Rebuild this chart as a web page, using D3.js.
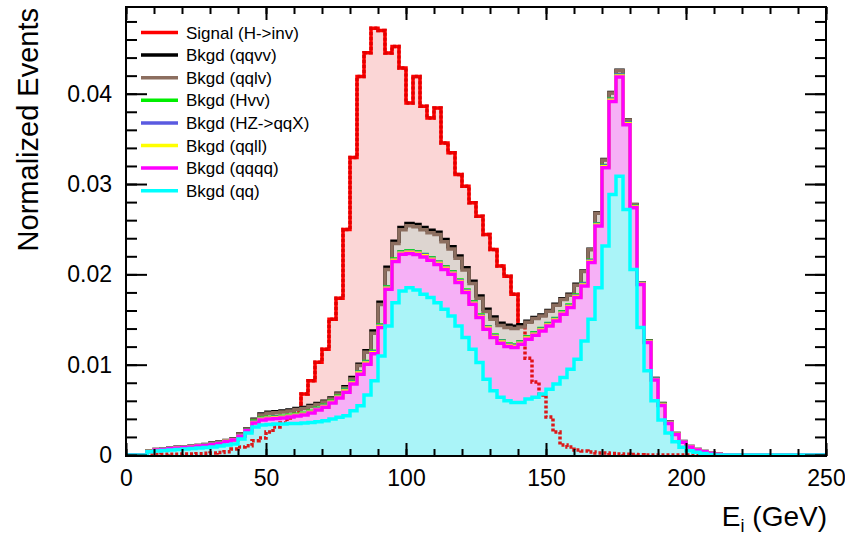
<!DOCTYPE html>
<html><head><meta charset="utf-8">
<script src="https://cdn.jsdelivr.net/npm/d3@7"></script>
<style>
body{margin:0;background:#fff}
svg{display:block}
text{font-family:"Liberation Sans",Arial,Helvetica,sans-serif;fill:#000}
</style>
</head><body>
<svg id="c" width="845" height="535"></svg>
<script>
// ---------------- data ----------------
const binWidth = 2.5;      // GeV
const nBins = 100;         // 0 .. 250 GeV
const xTickValues = [0, 50, 100, 150, 200, 250];
const yTickValues = [0, 0.01, 0.02, 0.03, 0.04];
const legendLabels = ["Signal (H->inv)", "Bkgd (qqvv)", "Bkgd (qqlv)", "Bkgd (Hvv)",
                      "Bkgd (HZ->qqX)", "Bkgd (qqll)", "Bkgd (qqqq)", "Bkgd (qq)"];

const signal = [
 0, 0, 0.00003, 0.00005, 0.00006, 0.00007, 0.00008, 0.00009, 0.00010, 0.00011,
 0.00015, 0.00018, 0.00022, 0.00028, 0.00036, 0.00066, 0.00088, 0.00103, 0.00158, 0.00188,
 0.00254, 0.00309, 0.00354, 0.00409, 0.00486, 0.00674, 0.00821, 0.01028, 0.01171, 0.01503,
 0.01735, 0.02497, 0.03293, 0.04191, 0.04453, 0.04724, 0.04700, 0.04450, 0.04523, 0.04284,
 0.03897, 0.04191, 0.03860, 0.03732, 0.03842, 0.03455, 0.03345, 0.03105, 0.02976, 0.02792,
 0.02644, 0.02442, 0.02276, 0.02092, 0.01978, 0.01779, 0.01437, 0.01072, 0.00807, 0.00663,
 0.00420, 0.00254, 0.00111, 0.00088, 0.00055, 0.00044, 0.00033, 0.00022, 0.00022, 0.00017,
 0.00011, 0.00008, 0.00005, 0.00003, 0, 0, 0, 0, 0, 0,
 0, 0, 0, 0, 0, 0, 0, 0, 0, 0,
 0, 0, 0, 0, 0, 0, 0, 0, 0, 0];

const qq = [
 0, 0, 0, 0.00036, 0.00044, 0.00050, 0.00055, 0.00061, 0.00066, 0.00072,
 0.00077, 0.00083, 0.00088, 0.00099, 0.00111, 0.00122, 0.00177, 0.00243, 0.00309, 0.00332,
 0.00337, 0.00343, 0.00343, 0.00348, 0.00348, 0.00354, 0.00361, 0.00368, 0.00379, 0.00398,
 0.00417, 0.00434, 0.00490, 0.00545, 0.00663, 0.00821, 0.01097, 0.01429, 0.01687, 0.01816,
 0.01853, 0.01827, 0.01779, 0.01743, 0.01687, 0.01613, 0.01539, 0.01429, 0.01301, 0.01171,
 0.01024, 0.00840, 0.00711, 0.00638, 0.00600, 0.00582, 0.00582, 0.00619, 0.00638, 0.00674,
 0.00729, 0.00785, 0.00859, 0.00950, 0.01061, 0.01263, 0.01503, 0.01853, 0.02313, 0.02884,
 0.03086, 0.02718, 0.02055, 0.01411, 0.00932, 0.00600, 0.00387, 0.00243, 0.00147, 0.00085,
 0.00048, 0.00030, 0.00017, 0.00006, 0, 0, 0, 0, 0, 0,
 0, 0, 0, 0, 0, 0, 0, 0, 0, 0];

const qqqq = [
 0, 0, 0, 0.00002, 0.00011, 0.00011, 0.00017, 0.00017, 0.00017, 0.00017,
 0.00022, 0.00022, 0.00028, 0.00028, 0.00039, 0.00044, 0.00030, 0.00025, 0.00044, 0.00055,
 0.00061, 0.00061, 0.00066, 0.00072, 0.00083, 0.00088, 0.00103, 0.00129, 0.00151, 0.00177,
 0.00213, 0.00262, 0.00295, 0.00350, 0.00343, 0.00300, 0.00314, 0.00406, 0.00456, 0.00406,
 0.00379, 0.00394, 0.00414, 0.00412, 0.00423, 0.00442, 0.00461, 0.00480, 0.00497, 0.00497,
 0.00497, 0.00553, 0.00590, 0.00600, 0.00601, 0.00608, 0.00644, 0.00663, 0.00688, 0.00699,
 0.00699, 0.00699, 0.00699, 0.00682, 0.00682, 0.00608, 0.00627, 0.00681, 0.00866, 0.01031,
 0.01098, 0.00939, 0.00682, 0.00478, 0.00314, 0.00229, 0.00162, 0.00105, 0.00080, 0.00055,
 0.00041, 0.00025, 0.00019, 0.00013, 0.00008, 0.00003, 0, 0, 0, 0,
 0, 0, 0, 0, 0, 0, 0, 0, 0, 0];

const qqll = [
 0, 0, 0, 0.00001, 0.00001, 0.00001, 0.00001, 0.00001, 0.00001, 0.00001,
 0.00001, 0.00001, 0.00001, 0.00001, 0.00001, 0.00001, 0.00001, 0.00001, 0.00008, 0.00008,
 0.00008, 0.00008, 0.00008, 0.00008, 0.00008, 0.00008, 0.00008, 0.00008, 0.00008, 0.00008,
 0.00008, 0.00012, 0.00012, 0.00012, 0.00012, 0.00012, 0.00012, 0.00012, 0.00012, 0.00012,
 0.00012, 0.00012, 0.00012, 0.00012, 0.00012, 0.00012, 0.00012, 0.00012, 0.00012, 0.00012,
 0.00012, 0.00012, 0.00012, 0.00012, 0.00012, 0.00012, 0.00012, 0.00012, 0.00012, 0.00012,
 0.00012, 0.00012, 0.00012, 0.00012, 0.00012, 0.00012, 0.00012, 0.00012, 0.00012, 0.00012,
 0.00012, 0.00010, 0.00008, 0.00005, 0.00005, 0.00005, 0.00004, 0.00004, 0.00002, 0.00002,
 0.00001, 0.00001, 0.00001, 0, 0, 0, 0, 0, 0, 0,
 0, 0, 0, 0, 0, 0, 0, 0, 0, 0];

const hzqqx = [
 0, 0, 0, 0.00001, 0.00001, 0.00001, 0.00001, 0.00001, 0.00001, 0.00001,
 0.00001, 0.00001, 0.00001, 0.00001, 0.00001, 0.00001, 0.00001, 0.00001, 0.00005, 0.00005,
 0.00005, 0.00005, 0.00005, 0.00005, 0.00005, 0.00005, 0.00005, 0.00005, 0.00005, 0.00005,
 0.00005, 0.00008, 0.00008, 0.00008, 0.00008, 0.00008, 0.00008, 0.00008, 0.00008, 0.00008,
 0.00008, 0.00008, 0.00008, 0.00008, 0.00008, 0.00008, 0.00008, 0.00008, 0.00008, 0.00008,
 0.00008, 0.00008, 0.00008, 0.00008, 0.00008, 0.00008, 0.00008, 0.00008, 0.00008, 0.00008,
 0.00008, 0.00008, 0.00008, 0.00008, 0.00008, 0.00010, 0.00010, 0.00010, 0.00010, 0.00010,
 0.00010, 0.00008, 0.00006, 0.00004, 0.00004, 0.00004, 0.00003, 0.00003, 0.00002, 0.00002,
 0.00001, 0.00001, 0, 0, 0, 0, 0, 0, 0, 0,
 0, 0, 0, 0, 0, 0, 0, 0, 0, 0];

const hvv = [
 0, 0, 0, 0.00001, 0.00001, 0.00001, 0.00001, 0.00001, 0.00001, 0.00001,
 0.00001, 0.00001, 0.00001, 0.00001, 0.00001, 0.00001, 0.00001, 0.00001, 0.00007, 0.00007,
 0.00007, 0.00007, 0.00007, 0.00007, 0.00007, 0.00007, 0.00007, 0.00007, 0.00007, 0.00007,
 0.00007, 0.00008, 0.00008, 0.00008, 0.00008, 0.00008, 0.00008, 0.00008, 0.00008, 0.00008,
 0.00008, 0.00008, 0.00008, 0.00008, 0.00008, 0.00008, 0.00008, 0.00008, 0.00008, 0.00008,
 0.00008, 0.00008, 0.00008, 0.00008, 0.00008, 0.00008, 0.00008, 0.00008, 0.00008, 0.00008,
 0.00008, 0.00008, 0.00008, 0.00008, 0.00008, 0.00005, 0.00005, 0.00005, 0.00005, 0.00005,
 0.00005, 0.00004, 0.00003, 0.00002, 0.00002, 0.00002, 0.00002, 0.00002, 0.00001, 0.00001,
 0.00001, 0.00001, 0, 0, 0, 0, 0, 0, 0, 0,
 0, 0, 0, 0, 0, 0, 0, 0, 0, 0];

const qqlv = [
 0, 0, 0, 0.00002, 0.00002, 0.00002, 0.00002, 0.00002, 0.00002, 0.00002,
 0.00002, 0.00006, 0.00012, 0.00012, 0.00006, 0.00006, 0.00023, 0.00017, 0.00014, 0.00036,
 0.00044, 0.00045, 0.00047, 0.00047, 0.00053, 0.00053, 0.00053, 0.00042, 0.00036, 0.00025,
 0.00025, 0.00018, 0.00029, 0.00068, 0.00104, 0.00199, 0.00227, 0.00190, 0.00171, 0.00245,
 0.00279, 0.00279, 0.00273, 0.00279, 0.00304, 0.00279, 0.00253, 0.00241, 0.00223, 0.00204,
 0.00186, 0.00168, 0.00175, 0.00168, 0.00182, 0.00182, 0.00162, 0.00161, 0.00158, 0.00139,
 0.00135, 0.00147, 0.00135, 0.00109, 0.00109, 0.00134, 0.00115, 0.00116, 0.00060, 0.00067,
 0.00043, 0.00030, 0.00017, 0.00007, 0.00006, 0.00007, 0.00010, 0.00007, 0.00005, 0.00003,
 0.00003, 0.00003, 0.00002, 0.00003, 0.00003, 0, 0, 0, 0, 0,
 0, 0, 0, 0, 0, 0, 0, 0, 0, 0];

const qqvv = [
 0, 0, 0, 0.00002, 0.00002, 0.00002, 0.00002, 0.00002, 0.00002, 0.00002,
 0.00002, 0.00002, 0.00002, 0.00002, 0.00002, 0.00002, 0.00002, 0.00002, 0.00010, 0.00010,
 0.00010, 0.00010, 0.00010, 0.00010, 0.00010, 0.00010, 0.00010, 0.00010, 0.00010, 0.00010,
 0.00010, 0.00015, 0.00015, 0.00015, 0.00015, 0.00025, 0.00025, 0.00025, 0.00025, 0.00025,
 0.00025, 0.00025, 0.00025, 0.00025, 0.00025, 0.00025, 0.00025, 0.00025, 0.00025, 0.00025,
 0.00025, 0.00025, 0.00025, 0.00025, 0.00025, 0.00025, 0.00025, 0.00010, 0.00010, 0.00010,
 0.00010, 0.00010, 0.00010, 0.00010, 0.00010, 0.00005, 0.00005, 0.00005, 0.00005, 0.00005,
 0.00005, 0.00003, 0.00002, 0.00001, 0.00001, 0.00001, 0.00001, 0.00001, 0.00001, 0.00001,
 0, 0, 0, 0, 0, 0, 0, 0, 0, 0,
 0, 0, 0, 0, 0, 0, 0, 0, 0, 0];

// ---------------- layout / style ----------------
const W = 845, H = 535;
const frame = {left: 126, right: 826, top: 7, bottom: 456};
const colors = {signal: "#ff0000", qqvv: "#000000", qqlv: "#8c6e5f", hvv: "#00ee00",
                hzqqx: "#5a5ae0", qqll: "#ffff00", qqqq: "#ff00ff", qq: "#00ffff"};
const bandColors = {signal: "#fbd6d6", qqvv: "#bcbcbc", qqlv: "#ddd5d0", hvv: "#b8f5b8",
                    hzqqx: "#c4c4f4", qqll: "#ffffb0", qqqq: "#f6b0f6", qq: "#aaf4f8"};

const svg = d3.select("#c");
svg.append("rect").attr("width", W).attr("height", H).attr("fill", "#fff");

const x = d3.scaleLinear().domain([0, nBins * binWidth]).range([frame.left, frame.right]);
const y = d3.scaleLinear().domain([0, 0.0496]).range([frame.bottom - 1, frame.top]);

const edges = d3.range(nBins + 1).map(i => i * binWidth);

const defs = svg.append("defs");
defs.append("clipPath").attr("id", "clip").append("rect")
  .attr("x", frame.left).attr("y", frame.top)
  .attr("width", frame.right - frame.left).attr("height", frame.bottom - frame.top + 1);

// step-shaped helpers: points are [binLowEdge, low, high]
function stepPoints(highs, lows) {
  const pts = highs.map((v, i) => [edges[i], lows ? lows[i] : 0, v]);
  pts.push([edges[nBins], lows ? lows[nBins - 1] : 0, highs[nBins - 1]]);
  return pts;
}
const stepLine = d3.line().x(d => x(d[0])).y(d => y(d[2])).curve(d3.curveStepAfter);
const stepBand = d3.area().x(d => x(d[0])).y0(d => y(d[1])).y1(d => y(d[2])).curve(d3.curveStepAfter);

const plot = svg.append("g").attr("clip-path", "url(#clip)");
const LW = 3.5;

// stacked backgrounds (bottom -> top)
const stackKeys = ["qq", "qqqq", "qqll", "hzqqx", "hvv", "qqlv", "qqvv"];
const seriesData = {qq, qqqq, qqll, hzqqx, hvv, qqlv, qqvv};
const table = d3.range(nBins).map(i => {
  const row = {};
  stackKeys.forEach(k => row[k] = seriesData[k][i]);
  return row;
});
const stacked = d3.stack().keys(stackKeys)(table);
const totalTop = stacked[stacked.length - 1].map(d => d[1]);

// signal: light fill where it rises above the background stack, then its outline
const sigHigh = signal.map((v, i) => Math.max(v, totalTop[i]));
plot.append("path").attr("d", stepBand(stepPoints(sigHigh, totalTop))).attr("fill", bandColors.signal);
plot.append("path").attr("d", stepLine(stepPoints(signal))).attr("fill", "none")
  .attr("stroke", colors.signal).attr("stroke-width", LW);

// background fills (each band between its lower and upper cumulative edge)
const bandG = plot.append("g");
stacked.forEach((layer, li) => {
  const key = stackKeys[li];
  bandG.append("path")
    .attr("d", stepBand(stepPoints(layer.map(d => d[1]), layer.map(d => d[0]))))
    .attr("fill", bandColors[key]);
});

// signal seen through the background fill (dotted)
plot.append("path").attr("d", stepLine(stepPoints(signal))).attr("fill", "none")
  .attr("stroke", "#e00000").attr("stroke-width", LW).attr("stroke-dasharray", "3,2")
  .attr("opacity", 0.9);

// background outlines, top cumulative first, bottom layer last (ROOT THStack order)
for (let li = stacked.length - 1; li >= 0; li--) {
  const key = stackKeys[li];
  const tops = stacked[li].map(d => d[1]);
  plot.append("path").attr("d", stepLine(stepPoints(tops))).attr("fill", "none")
    .attr("stroke", colors[key]).attr("stroke-width", LW);
}

// ---------------- axes ----------------
const fmtY = v => v === 0 ? "0" : d3.format(".2f")(v);
const yMinor = d3.range(0, 0.0497, 0.002);
const xMinor = d3.range(0, 251, 10);

function styleAxis(g) {
  g.select(".domain").remove();
  g.selectAll(".tick line").attr("stroke", "#000").attr("stroke-width", 2);
  g.selectAll(".tick text").style("font-size", "23px").style("font-family", "'Liberation Sans',Arial,sans-serif");
}
svg.append("g").attr("transform", `translate(${frame.left},0)`)
  .call(d3.axisLeft(y).tickValues(yTickValues).tickFormat(fmtY).tickSize(-21).tickPadding(14))
  .call(styleAxis);
svg.append("g").attr("transform", `translate(${frame.left},0)`)
  .call(d3.axisLeft(y).tickValues(yMinor).tickFormat("").tickSize(-11)).call(styleAxis);
svg.append("g").attr("transform", `translate(${frame.right},0)`)
  .call(d3.axisRight(y).tickValues(yTickValues).tickFormat("").tickSize(-21)).call(styleAxis);
svg.append("g").attr("transform", `translate(${frame.right},0)`)
  .call(d3.axisRight(y).tickValues(yMinor).tickFormat("").tickSize(-11)).call(styleAxis);

svg.append("g").attr("transform", `translate(0,${frame.bottom})`)
  .call(d3.axisBottom(x).tickValues(xTickValues).tickFormat(d3.format("d")).tickSize(-13).tickPadding(14))
  .call(styleAxis);
svg.append("g").attr("transform", `translate(0,${frame.bottom})`)
  .call(d3.axisBottom(x).tickValues(xMinor).tickFormat("").tickSize(-7)).call(styleAxis);
svg.append("g").attr("transform", `translate(0,${frame.top})`)
  .call(d3.axisTop(x).tickValues(xTickValues).tickFormat("").tickSize(-13)).call(styleAxis);
svg.append("g").attr("transform", `translate(0,${frame.top})`)
  .call(d3.axisTop(x).tickValues(xMinor).tickFormat("").tickSize(-7)).call(styleAxis);

// frame
svg.append("rect").attr("x", frame.left).attr("y", frame.top)
  .attr("width", frame.right - frame.left).attr("height", frame.bottom - frame.top)
  .attr("fill", "none").attr("stroke", "#000").attr("stroke-width", 2);

// axis titles
svg.append("text").attr("transform", "translate(38,8) rotate(-90)")
  .attr("text-anchor", "end").style("font-size", "29px").text("Normalized Events");
const xt = svg.append("text").attr("x", 827).attr("y", 526).attr("text-anchor", "end")
  .style("font-size", "28px");
xt.append("tspan").text("E");
xt.append("tspan").attr("dy", 6).style("font-size", "18px").text("i");
xt.append("tspan").attr("dy", -6).text(" (GeV)");

// ---------------- legend ----------------
const legendKeys = ["signal", "qqvv", "qqlv", "hvv", "hzqqx", "qqll", "qqqq", "qq"];
const lg = svg.append("g");
legendKeys.forEach((k, i) => {
  const cy = 32.5 + i * 22.6;
  lg.append("line").attr("x1", 141).attr("x2", 178).attr("y1", cy).attr("y2", cy)
    .attr("stroke", colors[k]).attr("stroke-width", 3.5);
  lg.append("text").attr("x", 186).attr("y", cy + 6).style("font-size", "17px").text(legendLabels[i]);
});
</script>
</body></html>
